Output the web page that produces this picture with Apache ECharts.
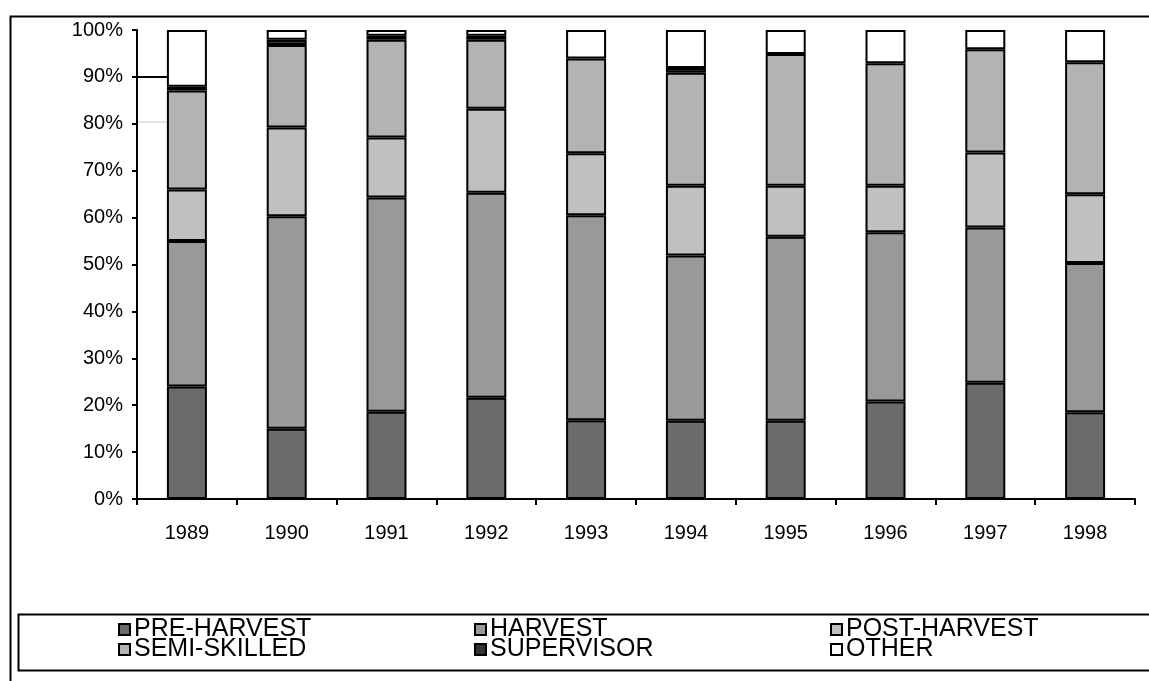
<!DOCTYPE html>
<html>
<head>
<meta charset="utf-8">
<script src="https://cdn.jsdelivr.net/npm/echarts@6/dist/echarts.min.js"></script>
<style>html,body{margin:0;padding:0;background:#fff;}#c{width:1149px;height:681px;}</style>
</head>
<body>
<div id="c"></div>
<script>
const years = ['1989','1990','1991','1992','1993','1994','1995','1996','1997','1998'];
const preHarvest  = [24.0, 15.0, 18.6, 21.6, 16.8, 16.7, 16.7, 20.8, 24.8, 18.5];
const harvest     = [31.0, 45.3, 45.7, 43.7, 43.7, 35.2, 39.2, 36.1, 33.1, 31.8];
const postHarvest = [11.0, 18.9, 12.8, 17.9, 13.2, 14.9, 10.9,  9.9, 16.0, 14.7];
const semiSkilled = [21.1, 17.6, 20.8, 14.7, 20.2, 24.1, 28.1, 26.1, 22.0, 28.1];
const supervisor  = [ 0.8,  1.1,  0.9,  0.9,  0.0,  1.0,  0.0,  0.0,  0.0,  0.0];
const other       = [12.1,  2.1,  1.2,  1.2,  6.1,  8.1,  5.1,  7.1,  4.1,  6.9];
const yTicks = [0,10,20,30,40,50,60,70,80,90,100];

const FONT = '"Liberation Sans", Arial, sans-serif';
const colors = ['#6b6b6b','#999999','#c0c0c0','#b3b3b3','#333333','#ffffff'];
const names = ['PRE-HARVEST','HARVEST','POST-HARVEST','SEMI-SKILLED','SUPERVISOR','OTHER'];
const datasets = [preHarvest, harvest, postHarvest, semiSkilled, supervisor, other];

const chart = echarts.init(document.getElementById('c'), null, {renderer:'canvas'});
const legendBase = {
  orient: 'vertical', top: 617, itemWidth: 11, itemHeight: 11, itemGap: -5,
  icon: 'rect', selectedMode: false, padding: 0,
  textStyle: {fontFamily: FONT, fontSize: 25, color: '#000', padding: [0,0,0,-1]}
};
chart.setOption({
  animation: false,
  backgroundColor: '#fff',
  grid: {left: 137, top: 30, right: 14, bottom: 182, containLabel: false},
  xAxis: {
    type: 'category', data: years,
    axisLine: {lineStyle: {color: '#000', width: 2}},
    axisTick: {show: true, length: 6, lineStyle: {color: '#000', width: 2}, alignWithLabel: false},
    axisLabel: {fontFamily: FONT, fontSize: 20, color: '#000', margin: 24}
  },
  yAxis: {
    type: 'value', min: yTicks[0], max: yTicks[yTicks.length - 1], interval: 10,
    axisLine: {show: true, lineStyle: {color: '#000', width: 2}},
    axisTick: {show: true, length: 5, lineStyle: {color: '#000', width: 2}},
    splitLine: {show: false},
    axisLabel: {fontFamily: FONT, fontSize: 20, color: '#000', margin: 14, formatter: v => v + '%'}
  },
  legend: [
    Object.assign({}, legendBase, {left: 118, data: [names[0], names[3]]}),
    Object.assign({}, legendBase, {left: 474, data: [names[1], names[4]]}),
    Object.assign({}, legendBase, {left: 830, data: [names[2], names[5]]})
  ],
  graphic: [
    {type: 'rect', left: 8, top: 14, shape: {width: 1300, height: 800}, style: {fill: 'none', stroke: '#000', lineWidth: 2}, z: -1},
    {type: 'rect', left: 16, top: 612, shape: {width: 1300, height: 56}, style: {fill: 'none', stroke: '#000', lineWidth: 2}, z: -1},
    {type: 'line', shape: {x1: 138, y1: 77, x2: 167, y2: 77}, style: {stroke: '#000', lineWidth: 2}},
    {type: 'line', shape: {x1: 138, y1: 122, x2: 167, y2: 122}, style: {stroke: '#c8c8c8', lineWidth: 1}}
  ],
  series: datasets.map((d, i) => ({
    name: names[i], type: 'bar', stack: 'total',
    data: d.map(v => (v === 0 ? null : v)), barWidth: 40,
    itemStyle: {color: colors[i], borderColor: '#000', borderWidth: 2},
    emphasis: {disabled: true}
  }))
});
</script>
</body>
</html>
